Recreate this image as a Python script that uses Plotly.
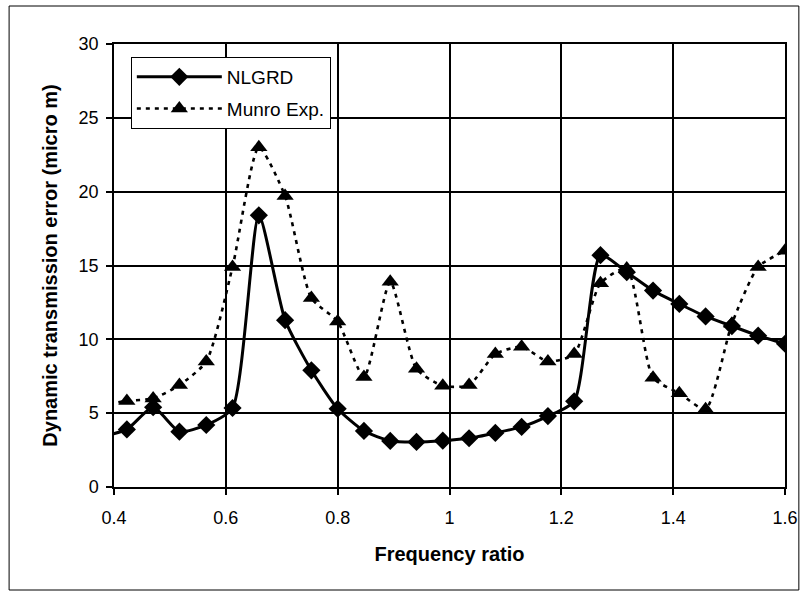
import plotly.graph_objects as go

freq_ratio = [0.376, 0.423, 0.470, 0.517, 0.565, 0.612, 0.659, 0.706, 0.753, 0.800,
              0.847, 0.894, 0.941, 0.988, 1.035, 1.082, 1.129, 1.176, 1.223, 1.270,
              1.317, 1.364, 1.411, 1.458, 1.505, 1.552, 1.600]
nlgrd = [3.4, 3.9, 5.4, 3.75, 4.2, 5.35, 18.4, 11.3, 7.9, 5.3,
         3.8, 3.12, 3.05, 3.14, 3.3, 3.66, 4.07, 4.8, 5.8, 15.7,
         14.55, 13.3, 12.4, 11.55, 10.9, 10.25, 9.7]
munro = [5.5, 5.83, 6.0, 6.9, 8.5, 14.9, 23.0, 19.7, 12.8, 11.2,
         7.45, 13.9, 8.0, 6.85, 6.9, 9.0, 9.5, 8.5, 9.0, 13.8,
         14.8, 7.4, 6.35, 5.27, 11.05, 14.9, 16.0]
x_ticks = [0.4, 0.6, 0.8, 1.0, 1.2, 1.4, 1.6]
x_ticklabels = ["0.4", "0.6", "0.8", "1", "1.2", "1.4", "1.6"]
y_ticks = [0, 5, 10, 15, 20, 25, 30]

FONT = "Liberation Sans, Arial, sans-serif"

fig = go.Figure()
fig.add_trace(go.Scatter(
    x=freq_ratio, y=nlgrd, name="NLGRD", mode="lines+markers",
    line=dict(color="black", width=3, shape="spline", smoothing=0.6),
    marker=dict(symbol="diamond", size=14, color="black"),
    legendgroup="a",
))
fig.add_trace(go.Scatter(
    x=freq_ratio, y=munro, name="Munro Exp.", mode="lines+markers",
    line=dict(color="black", width=2.6, dash="4px,5px", shape="spline", smoothing=0.6),
    marker=dict(symbol="triangle-up", size=15, color="black"),
    legendgroup="b",
))

L, R, T, B = 114, 18, 44, 109
W, H = 810, 596
pw, ph = W - L - R, H - T - B

def px2paper_x(px):
    return (px - L) / pw

def px2paper_y(py):
    return (H - B - py) / ph

fig.add_shape(type="rect", xref="paper", yref="paper",
              x0=px2paper_x(8), x1=px2paper_x(806),
              y0=px2paper_y(590), y1=px2paper_y(6),
              line=dict(color="black", width=1), fillcolor="rgba(0,0,0,0)",
              layer="below")

fig.update_layout(
    width=W, height=H, autosize=False,
    margin=dict(l=L, r=R, t=T, b=B, pad=0),
    paper_bgcolor="white", plot_bgcolor="white",
    font=dict(family=FONT, size=18, color="black"),
    showlegend=True,
    legend=dict(
        x=px2paper_x(131), y=px2paper_y(57), xanchor="left", yanchor="top",
        bgcolor="white", bordercolor="black", borderwidth=1,
        font=dict(family=FONT, size=19, color="black"),
        itemwidth=85, tracegroupgap=4, traceorder="grouped",
    ),
)
fig.update_xaxes(
    range=[0.4, 1.6], tickvals=x_ticks, ticktext=x_ticklabels,
    showgrid=True, gridcolor="black", gridwidth=1.5,
    showline=True, linecolor="black", linewidth=1.5, mirror=True,
    ticks="outside", ticklen=6, tickcolor="black", tickwidth=1.5,
    ticklabelstandoff=8,
    tickfont=dict(family=FONT, size=18),
    zeroline=False,
    title=dict(text="<b>Frequency ratio</b>", font=dict(family=FONT, size=20), standoff=20),
)
fig.update_yaxes(
    range=[0, 30], tickvals=y_ticks,
    showgrid=True, gridcolor="black", gridwidth=1.5,
    showline=True, linecolor="black", linewidth=1.5, mirror=True,
    ticks="outside", ticklen=6, tickcolor="black", tickwidth=1.5,
    ticklabelstandoff=4,
    tickfont=dict(family=FONT, size=18),
    zeroline=False,
    title=dict(text="<b>Dynamic transmission error (micro m)</b>", font=dict(family=FONT, size=20), standoff=16),
)

fig.write_html("out.html")
